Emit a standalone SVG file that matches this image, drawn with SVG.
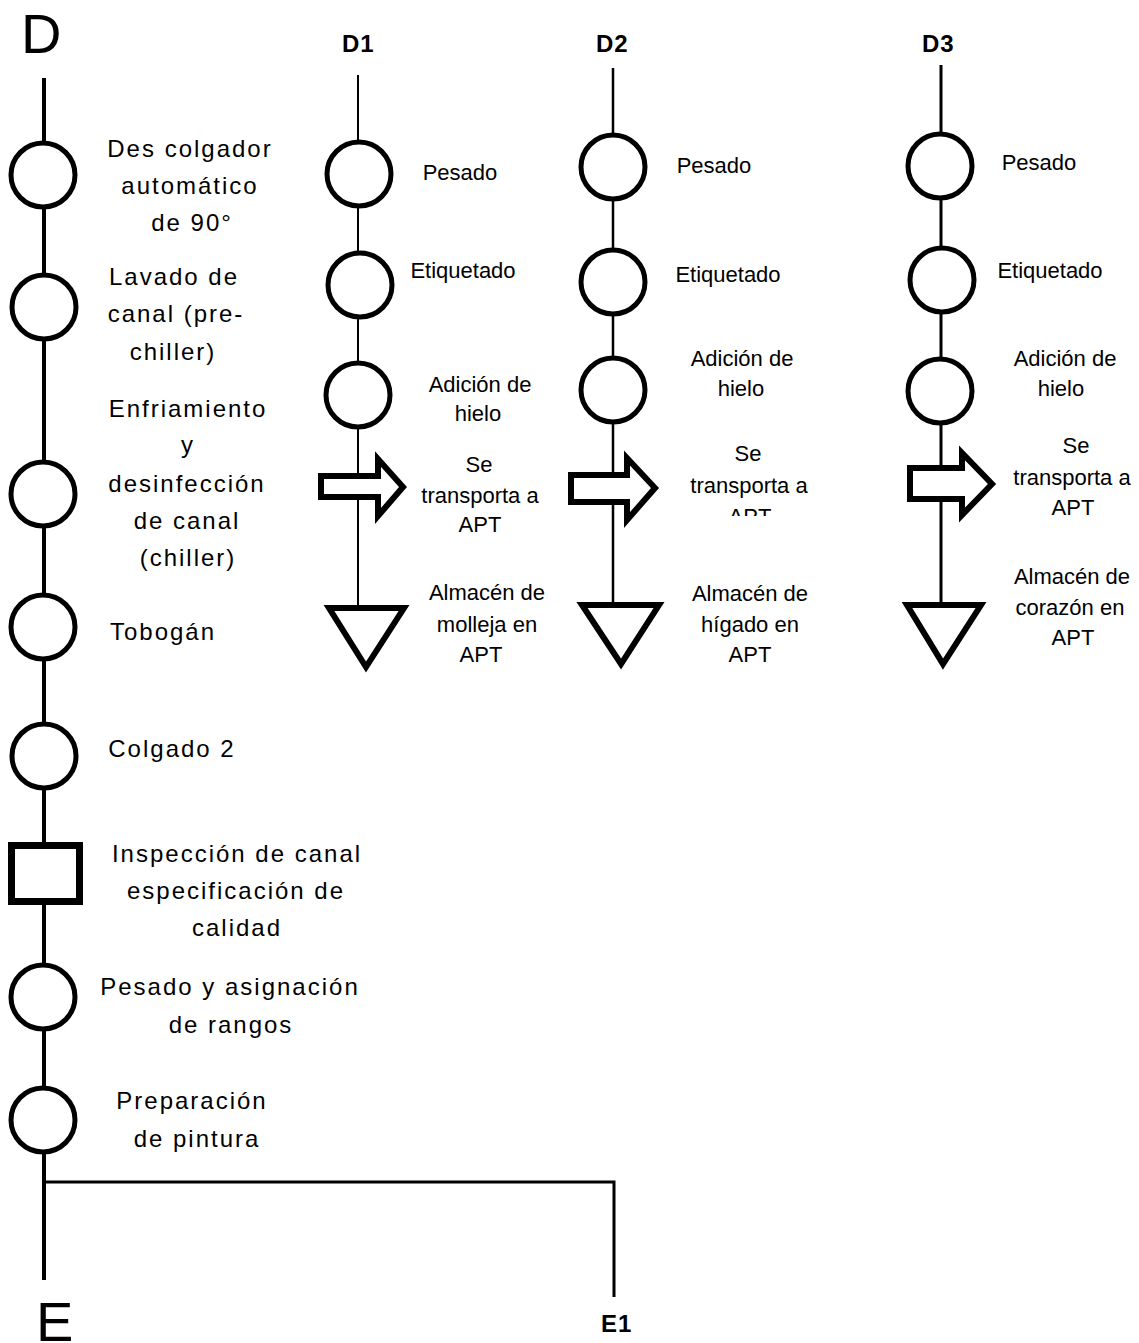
<svg xmlns="http://www.w3.org/2000/svg" width="1139" height="1343" viewBox="0 0 1139 1343">
  <style>
    .big { font-family: "Liberation Sans", Arial, sans-serif; font-size: 56px; fill: #000; }
    .hdr { font-family: "Liberation Sans", Arial, sans-serif; font-size: 24px; font-weight: bold; letter-spacing: 1px; fill: #000; }
    .main { font-family: "Liberation Sans", Arial, sans-serif; font-size: 24px; letter-spacing: 2px; fill: #000; text-anchor: middle; }
    .sub { font-family: "Liberation Sans", Arial, sans-serif; font-size: 22px; fill: #000; text-anchor: middle; }
    .op { fill: #fff; stroke: #000; stroke-width: 5; }
    .insp { fill: #fff; stroke: #000; stroke-width: 7; }
    .move { fill: #fff; stroke: #000; stroke-width: 6; stroke-linejoin: miter; }
    .store { fill: #fff; stroke: #000; stroke-width: 6; stroke-linejoin: miter; }
    .flow { fill: none; stroke: #000; }
  </style>
  <defs>
    <clipPath id="clipD2apt">
      <rect x="680" y="440" width="160" height="76"/>
    </clipPath>
  </defs>

  <!-- connectors -->
  <g id="connectors">
    <line class="flow" x1="44" y1="78" x2="44" y2="1280" stroke-width="4"/>
    <polyline class="flow" points="44,1182 614,1182 614,1297" stroke-width="3"/>
    <line class="flow" x1="358" y1="75" x2="358" y2="605" stroke-width="2"/>
    <line class="flow" x1="613" y1="68" x2="613" y2="602" stroke-width="2.5"/>
    <line class="flow" x1="941" y1="65" x2="941" y2="602" stroke-width="3"/>
  </g>

  <!-- terminal labels -->
  <g id="label-D"><text class="big" x="21" y="53">D</text></g>
  <g id="label-E"><text class="big" x="36" y="1341">E</text></g>
  <g id="label-D1"><text class="hdr" x="342" y="52">D1</text></g>
  <g id="label-D2"><text class="hdr" x="596" y="52">D2</text></g>
  <g id="label-D3"><text class="hdr" x="922" y="52">D3</text></g>
  <g id="label-E1"><text class="hdr" x="601" y="1332">E1</text></g>

  <!-- main line -->
  <g id="descolgador">
    <circle class="op" cx="43" cy="175" r="32"/>
    <text class="main" x="190" y="157">Des colgador</text>
    <text class="main" x="190" y="194">automático</text>
    <text class="main" x="192" y="231">de 90°</text>
  </g>
  <g id="lavado">
    <circle class="op" cx="44" cy="307" r="32"/>
    <text class="main" x="174" y="285">Lavado de</text>
    <text class="main" x="176" y="322">canal (pre-</text>
    <text class="main" x="173" y="360">chiller)</text>
  </g>
  <g id="enfriamiento">
    <circle class="op" cx="43" cy="494" r="32"/>
    <text class="main" x="188" y="417">Enfriamiento</text>
    <text class="main" x="188" y="453">y</text>
    <text class="main" x="187" y="492">desinfección</text>
    <text class="main" x="187" y="529">de canal</text>
    <text class="main" x="188" y="566">(chiller)</text>
  </g>
  <g id="tobogan">
    <circle class="op" cx="43" cy="627" r="32"/>
    <text class="main" x="163" y="640">Tobogán</text>
  </g>
  <g id="colgado2">
    <circle class="op" cx="44" cy="756" r="32"/>
    <text class="main" x="172" y="757">Colgado 2</text>
  </g>
  <g id="inspeccion">
    <rect class="insp" x="11.5" y="845.5" width="68" height="56"/>
    <text class="main" x="237" y="862">Inspección de canal</text>
    <text class="main" x="236" y="899">especificación de</text>
    <text class="main" x="237" y="936">calidad</text>
  </g>
  <g id="pesado-rangos">
    <circle class="op" cx="43" cy="997" r="32"/>
    <text class="main" x="230" y="995">Pesado y asignación</text>
    <text class="main" x="231" y="1033">de rangos</text>
  </g>
  <g id="pintura">
    <circle class="op" cx="43" cy="1120" r="32"/>
    <text class="main" x="192" y="1109">Preparación</text>
    <text class="main" x="197" y="1147">de pintura</text>
  </g>

  <!-- branch D1: molleja -->
  <g id="d1-pesado">
    <circle class="op" cx="359" cy="174" r="32"/>
    <text class="sub" x="460" y="180">Pesado</text>
  </g>
  <g id="d1-etiquetado">
    <circle class="op" cx="360" cy="285" r="32"/>
    <text class="sub" x="463" y="278">Etiquetado</text>
  </g>
  <g id="d1-hielo">
    <circle class="op" cx="358" cy="395" r="32"/>
    <text class="sub" x="480" y="392">Adición de</text>
    <text class="sub" x="478" y="421">hielo</text>
  </g>
  <g id="d1-transporte">
    <path class="move" d="M321,476 H378 V459 L403,487 L378,516 V497 H321 Z"/>
    <text class="sub" x="479" y="472">Se</text>
    <text class="sub" x="480" y="503">transporta a</text>
    <text class="sub" x="480" y="532">APT</text>
  </g>
  <g id="d1-almacen">
    <polygon class="store" points="329,608 404,608 366,667"/>
    <text class="sub" x="487" y="600">Almacén de</text>
    <text class="sub" x="487" y="632">molleja en</text>
    <text class="sub" x="481" y="662">APT</text>
  </g>

  <!-- branch D2: hígado -->
  <g id="d2-pesado">
    <circle class="op" cx="613" cy="167" r="32"/>
    <text class="sub" x="714" y="173">Pesado</text>
  </g>
  <g id="d2-etiquetado">
    <circle class="op" cx="613" cy="282" r="32"/>
    <text class="sub" x="728" y="282">Etiquetado</text>
  </g>
  <g id="d2-hielo">
    <circle class="op" cx="613" cy="390" r="32"/>
    <text class="sub" x="742" y="366">Adición de</text>
    <text class="sub" x="741" y="396">hielo</text>
  </g>
  <g id="d2-transporte">
    <path class="move" d="M571,475 H627 V458 L655,488 L627,520 V502 H571 Z"/>
    <text class="sub" x="748" y="461">Se</text>
    <text class="sub" x="749" y="493">transporta a</text>
    <text class="sub" x="750" y="524" clip-path="url(#clipD2apt)">APT</text>
  </g>
  <g id="d2-almacen">
    <polygon class="store" points="582,605 659,605 621,664"/>
    <text class="sub" x="750" y="601">Almacén de</text>
    <text class="sub" x="750" y="632">hígado en</text>
    <text class="sub" x="750" y="662">APT</text>
  </g>

  <!-- branch D3: corazón -->
  <g id="d3-pesado">
    <circle class="op" cx="940" cy="166" r="32"/>
    <text class="sub" x="1039" y="170">Pesado</text>
  </g>
  <g id="d3-etiquetado">
    <circle class="op" cx="942" cy="280" r="32"/>
    <text class="sub" x="1050" y="278">Etiquetado</text>
  </g>
  <g id="d3-hielo">
    <circle class="op" cx="940" cy="391" r="32"/>
    <text class="sub" x="1065" y="366">Adición de</text>
    <text class="sub" x="1061" y="396">hielo</text>
  </g>
  <g id="d3-transporte">
    <path class="move" d="M910,468 H962 V453 L992,484 L962,515 V499 H910 Z"/>
    <text class="sub" x="1076" y="453">Se</text>
    <text class="sub" x="1072" y="485">transporta a</text>
    <text class="sub" x="1073" y="515">APT</text>
  </g>
  <g id="d3-almacen">
    <polygon class="store" points="907,605 981,605 943,664"/>
    <text class="sub" x="1072" y="584">Almacén de</text>
    <text class="sub" x="1070" y="615">corazón en</text>
    <text class="sub" x="1073" y="645">APT</text>
  </g>
</svg>
